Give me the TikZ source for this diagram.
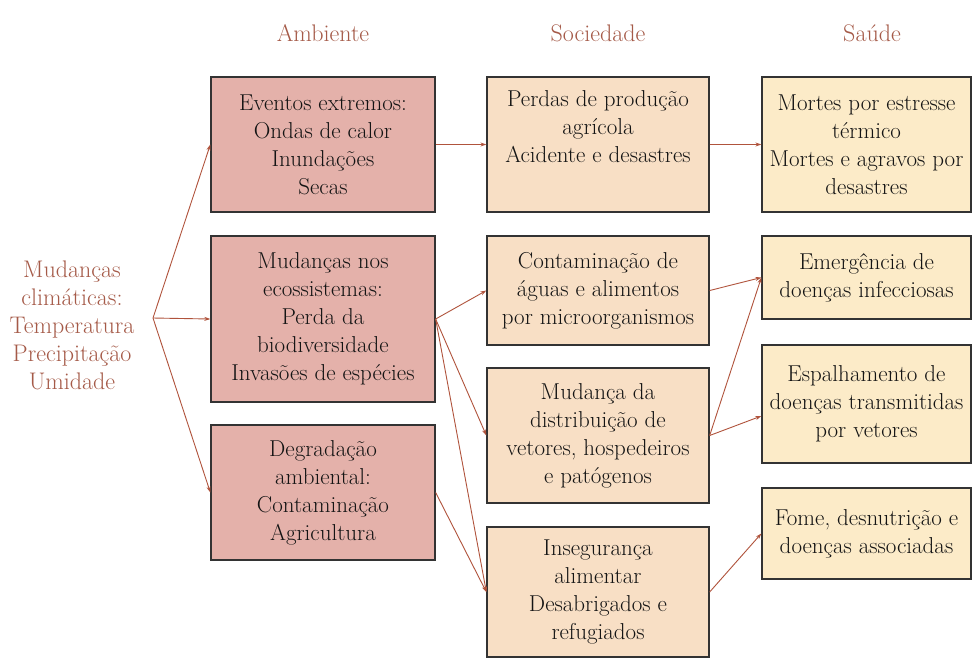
\documentclass[tikz,border=0pt]{standalone}
\usepackage{fontspec}
\usetikzlibrary{arrows.meta}
\definecolor{ambfill}{HTML}{E4B1AA}
\definecolor{socfill}{HTML}{F8DFC5}
\definecolor{saufill}{HTML}{FCEBC8}
\definecolor{bordc}{HTML}{333333}
\definecolor{arrc}{HTML}{B0533C}
\definecolor{headc}{HTML}{A55A48}
\definecolor{txtc}{HTML}{141414}
\tikzset{
  box/.style={draw=bordc, line width=1.3pt, align=center, text=txtc,
    font=\fontsize{23}{28}\selectfont, inner sep=0pt},
  amb/.style={box, fill=ambfill, minimum width=224pt},
  soc/.style={box, fill=socfill, minimum width=222pt},
  sau/.style={box, fill=saufill, minimum width=209pt},
  head/.style={text=headc, font=\fontsize{24}{28}\selectfont, align=center},
  conn/.style={draw=arrc, line width=0.9pt, -{Stealth[length=6pt,width=4pt]}}
}
\begin{document}
\begin{tikzpicture}[x=1pt,y=-1pt]
\useasboundingbox[fill=white] (0,0) rectangle (973,662);
% headers
\node[head] (hA) at (323,33) {Ambiente};
\node[head] (hS) at (598,33) {Sociedade};
\node[head] (hH) at (872,33) {Saúde};
% left
\node[head] (mc) at (72,325) {Mudanças\\climáticas:\\Temperatura\\Precipitação\\Umidade};
\coordinate (fan) at (153,318);
% Ambiente
\node[amb, minimum height=135pt] (E1) at (323,144.5) {Eventos extremos:\\Ondas de calor\\Inundações\\Secas};
\node[amb, minimum height=166pt] (E2) at (323,319) {Mudanças nos\\ecossistemas:\\Perda da\\biodiversidade\\Invasões de espécies};
\node[amb, minimum height=135pt] (E3) at (323,492.5) {Degradação\\ambiental:\\Contaminação\\Agricultura};
% Sociedade
\node[soc, minimum height=135pt] (S1) at (598,144.5) {Perdas de produção\\agrícola\\Acidente e desastres\\\strut};
\node[soc, minimum height=109pt] (S2) at (598,290.5) {Contaminação de\\águas e alimentos\\por microorganismos};
\node[soc, minimum height=135pt] (S3) at (598,435.5) {Mudança da\\distribuição de\\vetores, hospedeiros\\e patógenos};
\node[soc, minimum height=130pt] (S4) at (598,592) {Insegurança\\alimentar\\Desabrigados e\\refugiados};
% Saude
\node[sau, minimum height=135pt] (H1) at (866.5,144.5) {Mortes por estresse\\térmico\\Mortes e agravos por\\desastres};
\node[sau, minimum height=83pt] (H2) at (866.5,277.5) {Emergência de\\doenças infecciosas};
\node[sau, minimum height=118pt] (H3) at (866.5,404) {Espalhamento de\\doenças transmitidas\\por vetores};
\node[sau, minimum height=91pt] (H4) at (866.5,533.5) {Fome, desnutrição e\\doenças associadas};
% connectors
\draw[conn] (fan) -- (E1.west);
\draw[conn] (fan) -- (E2.west);
\draw[conn] (fan) -- (E3.west);
\draw[conn] (E1.east) -- (S1.west);
\draw[conn] (S1.east) -- (H1.west);
\draw[conn] (E2.east) -- (S2.west);
\draw[conn] (E2.east) -- (S3.west);
\draw[conn] (E2.east) -- (S4.west);
\draw[conn] (E3.east) -- (S4.west);
\draw[conn] (S2.east) -- (H2.west);
\draw[conn] (S3.east) -- (H2.west);
\draw[conn] (S3.east) -- ([yshift=-12pt]H3.west);
\draw[conn] (S4.east) -- (H4.west);
\end{tikzpicture}
\end{document}
